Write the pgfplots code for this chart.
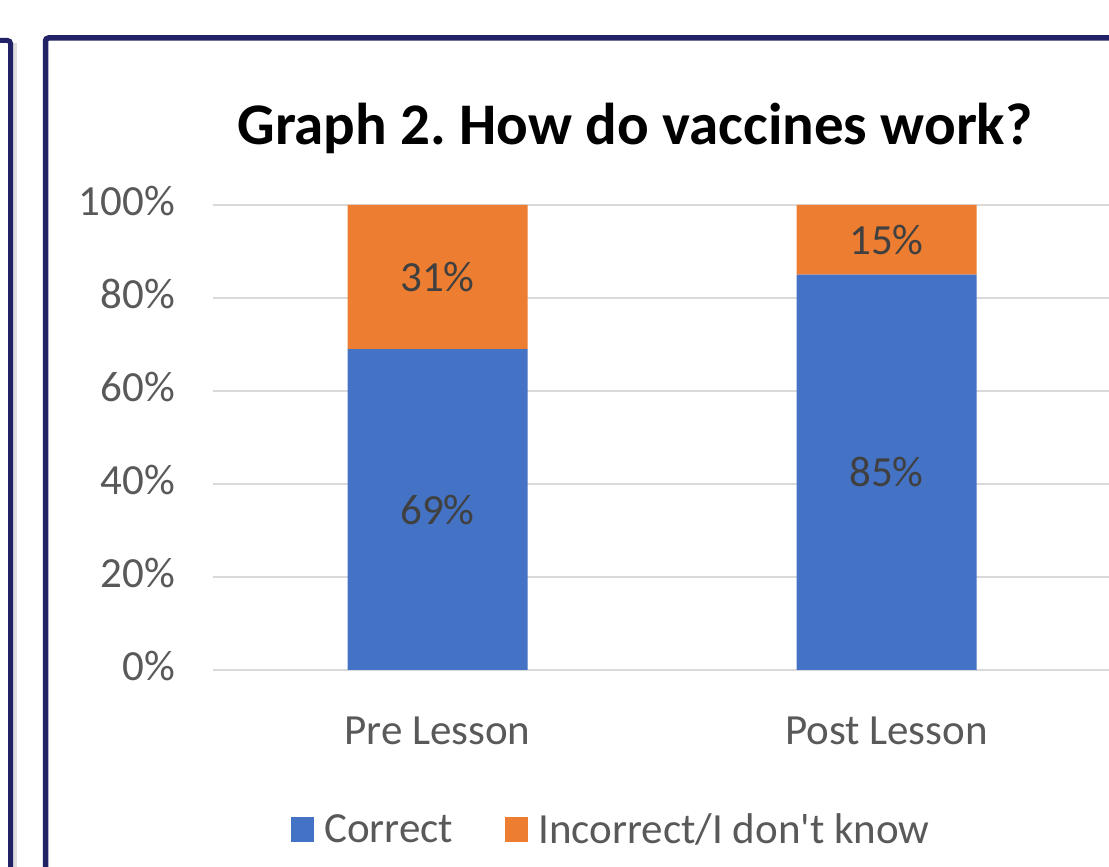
\documentclass[border=0pt]{standalone}
\usepackage{fontspec}
\setmainfont{Carlito}[Ligatures=TeXOff]
\usepackage{pgfplots}
\pgfplotsset{compat=1.18}
\definecolor{navy}{HTML}{222266}
\definecolor{barblue}{HTML}{4472C4}
\definecolor{barorange}{HTML}{ED7D31}
\definecolor{gridgray}{HTML}{D9D9D9}
\definecolor{ticktext}{HTML}{595959}
\definecolor{labeltext}{HTML}{404040}
\newcommand{\lblfont}{\fontsize{21.5}{26}\selectfont}
\frenchspacing

\begin{document}
\begin{tikzpicture}
\useasboundingbox (0,0) rectangle (554.5pt,433.5pt);
\fill[white] (0,0) rectangle (554.5pt,433.5pt);
% panel frames
\draw[gray!25, line width=2pt] (7.5pt,-5pt) -- (7.5pt,412pt);
\draw[navy, line width=2.5pt, rounded corners=1.5pt] (-5pt,413.25pt) -- (5.25pt,413.25pt) -- (5.25pt,-5pt);
\draw[navy, line width=2.75pt, rounded corners=1.5pt] (22.75pt,-5pt) -- (22.75pt,414.5pt) -- (560pt,414.5pt);

\node[font=\bfseries\fontsize{29.5}{34}\selectfont, anchor=base] at (317.5pt,361pt) {Graph 2. How do vaccines work?};

\begin{axis}[
  at={(106.5pt,98.5pt)}, anchor=south west,
  scale only axis, width=449pt, height=232.5pt,
  ybar stacked, bar width=90pt,
  xmin=-0.5, xmax=1.5, ymin=0, ymax=100,
  xtick={0,1}, xticklabels={Pre Lesson, Post Lesson},
  ytick={0,20,...,100},
  yticklabel={\pgfmathprintnumber{\tick}\%},
  /pgf/number format/assume math mode=true,
  ymajorgrids, grid style={gridgray, line width=1pt},
  axis line style={draw=none}, major tick length=0pt,
  tick label style={font=\lblfont, text=ticktext},
  xticklabel style={yshift=-20pt},
  yticklabel style={xshift=-15.5pt, yshift=2pt},
  legend style={draw=none, fill=none, at={(0.4449,-0.344)}, anchor=center,
    font=\lblfont, text=ticktext, legend columns=2,
    /tikz/every odd column/.append style={column sep=3pt},
    /tikz/every even column/.append style={column sep=24pt}},
  legend image code/.code={\fill[#1] (0pt,-6.25pt) rectangle (11.5pt,6.25pt);},
]
\addplot[fill=barblue, draw=none] coordinates {(0,69) (1,85)};
\addlegendentry{Correct}
\addplot[fill=barorange, draw=none] coordinates {(0,31) (1,15)};
\addlegendentry{Incorrect/I don't know}
\end{axis}

% data labels, centred in each segment
\begin{axis}[
  at={(106.5pt,98.5pt)}, anchor=south west,
  scale only axis, width=449pt, height=232.5pt,
  xmin=-0.5, xmax=1.5, ymin=0, ymax=100, hide axis,
]
\addplot[draw=none, mark=none, nodes near coords, point meta=explicit symbolic,
  nodes near coords style={anchor=center, font=\lblfont, text=labeltext}]
  coordinates {(0,34.5)[69\%] (1,42.5)[85\%] (0,84.5)[31\%] (1,92.5)[15\%]};
\end{axis}
\end{tikzpicture}
\end{document}
